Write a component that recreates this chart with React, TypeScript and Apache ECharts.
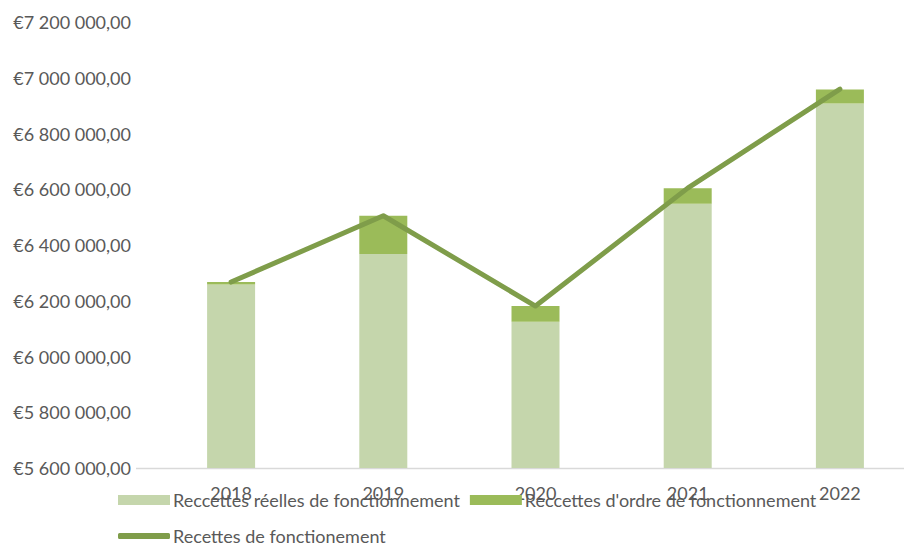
import React, { useEffect, useRef } from "react";
import * as echarts from "echarts";

const categories = ["2018", "2019", "2020", "2021", "2022"];
const recettesReelles = [6258000, 6368000, 6125000, 6548000, 6908000];
const recettesOrdre = [9000, 137000, 56000, 56000, 50000];
const recettesTotal = [6267000, 6505000, 6181000, 6604000, 6959000];

const nameReelles = "Reccettes réelles de fonctionnement";
const nameOrdre = "Reccettes d'ordre de fonctionnement";
const nameTotal = "Recettes de fonctionement";

const fmt = (v: number) => {
  const s = Math.round(v).toString().replace(/\B(?=(\d{3})+(?!\d))/g, " ");
  return "€" + s + ",00";
};

const FONT = "Lato";
const TEXT_COLOR = "#595959";
const FS = 18;

export default function App() {
  const ref = useRef<HTMLDivElement>(null);
  useEffect(() => {
    const chart = echarts.init(ref.current!, null, { renderer: "svg" });
    chart.setOption({
      animation: false,
      textStyle: { fontFamily: FONT },
      grid: {
        left: 155,
        width: 761,
        top: 22,
        height: 446,
        containLabel: false,
        outerBoundsMode: "none",
      },
      legend: [
        {
          left: 118,
          top: 491,
          padding: 0,
          itemWidth: 52,
          itemHeight: 10,
          itemGap: 10,
          icon: "rect",
          textStyle: { color: TEXT_COLOR, fontSize: FS, fontFamily: FONT, lineHeight: 18, padding: [0, 0, 0, -2] },
          data: [nameReelles, nameOrdre],
        },
        {
          left: 118,
          top: 527,
          padding: 0,
          itemWidth: 52,
          itemHeight: 6,
          textStyle: { color: TEXT_COLOR, fontSize: FS, fontFamily: FONT, lineHeight: 18, padding: [0, 0, 0, -2] },
          data: [{ name: nameTotal, icon: "roundRect" }],
        },
      ],
      xAxis: {
        type: "category",
        data: categories,
        axisLine: { show: false },
        axisTick: { show: false },
        axisLabel: { color: TEXT_COLOR, fontSize: FS, fontFamily: FONT, margin: 16 },
      },
      yAxis: {
        type: "value",
        min: 5600000,
        max: 7200000,
        interval: 200000,
        splitLine: { show: false },
        axisLine: { show: false },
        axisTick: { show: false },
        axisLabel: { color: TEXT_COLOR, fontSize: FS, fontFamily: FONT, margin: 24, formatter: fmt },
      },
      graphic: [
        {
          type: "line",
          shape: { x1: 136, y1: 468.5, x2: 904, y2: 468.5 },
          style: { stroke: "#D9D9D9", lineWidth: 1.5 },
          z: 0,
        },
      ],
      series: [
        {
          name: nameReelles,
          type: "bar",
          stack: "r",
          barWidth: 48,
          itemStyle: { color: "#C5D6AC" },
          data: recettesReelles,
        },
        {
          name: nameOrdre,
          type: "bar",
          stack: "r",
          barWidth: 48,
          itemStyle: { color: "#9BBB59" },
          data: recettesOrdre,
        },
        {
          name: nameTotal,
          type: "line",
          symbol: "none",
          lineStyle: { color: "#7F9D4A", width: 5, cap: "round", join: "round" },
          itemStyle: { color: "#7F9D4A" },
          data: recettesTotal,
          z: 5,
        },
      ],
    });
    return () => chart.dispose();
  }, []);
  return (
    <div
      ref={ref}
      style={{ position: "fixed", left: 0, top: 0, width: 904, height: 546, background: "#fff" }}
    />
  );
}
